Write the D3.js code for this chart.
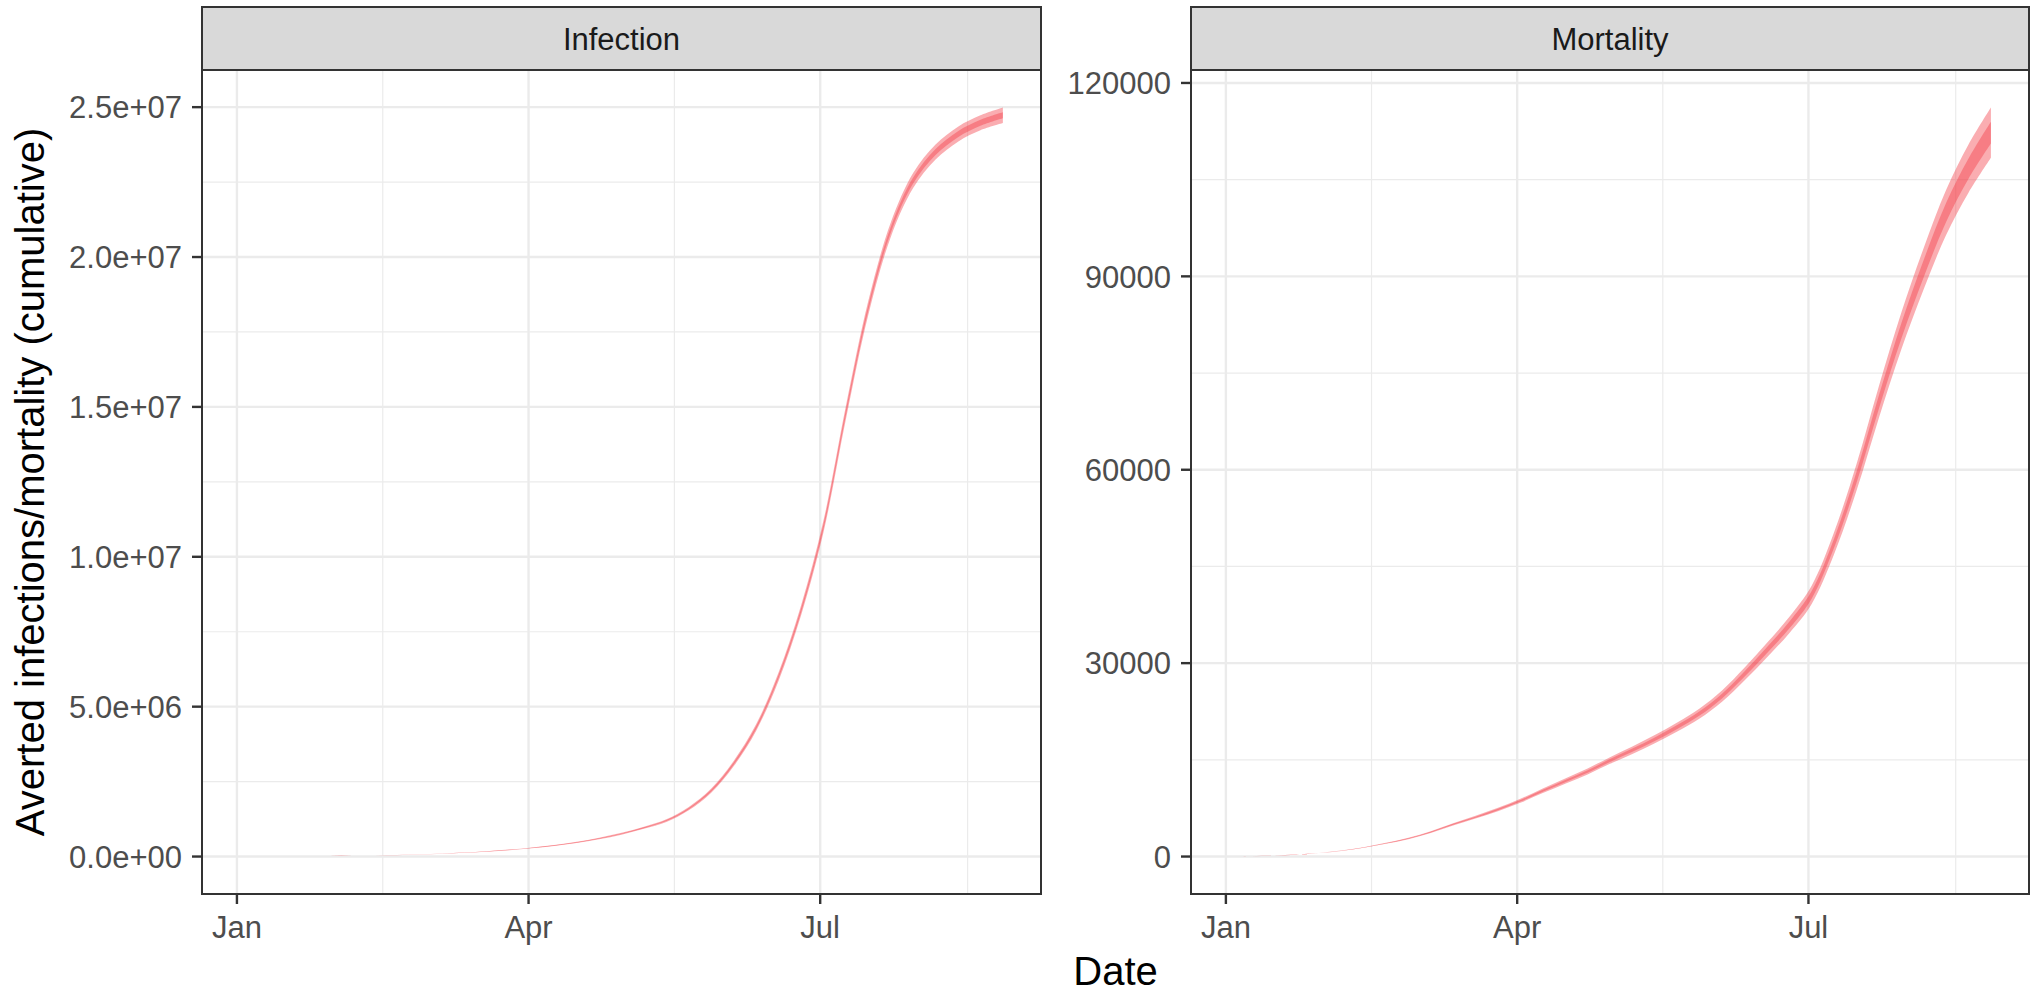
<!DOCTYPE html>
<html lang="en">
<head>
<meta charset="UTF-8">
<script src="https://cdn.jsdelivr.net/npm/d3@7"></script>
<style>
  body { margin: 0; background: #fff; }
  svg text { font-family: "Liberation Sans", Arial, Helvetica, sans-serif; }
</style>
<title>Averted infections / mortality</title>
</head>
<body>
<div id="chart"></div>
<script>
// weekly dates, 2020
var dates = ["2020-01-02","2020-01-09","2020-01-16","2020-01-23","2020-01-30",
  "2020-02-06","2020-02-13","2020-02-20","2020-02-27","2020-03-05","2020-03-12",
  "2020-03-19","2020-03-26","2020-04-02","2020-04-09","2020-04-16","2020-04-23",
  "2020-04-30","2020-05-07","2020-05-14","2020-05-21","2020-05-28","2020-06-04",
  "2020-06-11","2020-06-18","2020-06-25","2020-07-02","2020-07-09","2020-07-16",
  "2020-07-23","2020-07-30","2020-08-06","2020-08-13","2020-08-20","2020-08-27"];

// Infection: outer (95%) and inner (50%) bands
var infLo95 = [0, 1800, 4600, 9300, 15000, 22500, 33000, 47000, 66000, 95000, 123000, 161000, 209000, 276000, 353000, 450000, 575000, 730000, 925000, 1155000, 1545000, 2130000, 3010000, 4190000, 5860000, 8030000, 10800000, 14580000, 18070000, 20660000, 22300000, 23250000, 23850000, 24230000, 24470000];
var infHi95 = [0, 2200, 5400, 10700, 17000, 25500, 37000, 53000, 74000, 105000, 137000, 179000, 231000, 304000, 387000, 490000, 625000, 790000, 995000, 1245000, 1655000, 2270000, 3190000, 4410000, 6140000, 8370000, 11200000, 15020000, 18530000, 21140000, 22800000, 23750000, 24350000, 24730000, 24990000];
var infLo50 = [0, 1900, 4800, 9700, 15600, 23400, 34200, 48800, 68400, 98000, 127000, 166000, 216000, 284000, 363000, 462000, 590000, 748000, 946000, 1182000, 1578000, 2172000, 3064000, 4256000, 5944000, 8132000, 10920000, 14712000, 18208000, 20804000, 22450000, 23400000, 24000000, 24380000, 24630000];
var infHi50 = [0, 2100, 5200, 10300, 16400, 24600, 35800, 51200, 71600, 102000, 133000, 174000, 224000, 296000, 377000, 478000, 610000, 772000, 974000, 1218000, 1622000, 2228000, 3136000, 4344000, 6056000, 8268000, 11080000, 14888000, 18392000, 20996000, 22650000, 23600000, 24200000, 24580000, 24830000];

// Mortality
var mortLo95 = [0, 58, 145, 290, 531, 868, 1351, 1978, 2702, 3667, 4825, 5886, 7044, 8347, 9843, 11290, 12738, 14378, 15922, 17563, 19396, 21423, 24028, 27309, 30880, 34643, 39179, 46899, 56742, 68032, 78647, 88008, 96403, 102965, 108400];
var mortHi95 = [0, 62, 155, 310, 569, 932, 1449, 2122, 2898, 3933, 5175, 6314, 7556, 8953, 10557, 12110, 13662, 15422, 17078, 18837, 20804, 22977, 25772, 29291, 33120, 37157, 42021, 50301, 60858, 72968, 84353, 94392, 103397, 110435, 116200];
var mortLo50 = [0, 59, 148, 296, 542, 887, 1379, 2020, 2759, 3744, 4926, 6010, 7193, 8523, 10050, 11528, 13006, 14681, 16257, 17932, 19804, 21874, 24534, 27884, 31530, 35372, 40003, 47886, 57936, 69463, 80302, 89859, 98431, 105131, 110600];
var mortHi50 = [0, 61, 152, 304, 558, 913, 1421, 2080, 2841, 3856, 5074, 6190, 7407, 8777, 10350, 11872, 13394, 15119, 16743, 18468, 20396, 22526, 25266, 28716, 32470, 36428, 41197, 49314, 59664, 71537, 82698, 92541, 101369, 108269, 114000];

var panelNames = ["Infection", "Mortality"];
var infTicks = [0, 5e6, 1e7, 1.5e7, 2e7, 2.5e7];
var infTickLabels = ["0.0e+00", "5.0e+06", "1.0e+07", "1.5e+07", "2.0e+07", "2.5e+07"];
var mortTicks = [0, 30000, 60000, 90000, 120000];
var mortTickLabels = ["0", "30000", "60000", "90000", "120000"];
var monthTicks = ["2020-01-01", "2020-04-01", "2020-07-01", "2020-10-01"];
var monthLabels = ["Jan", "Apr", "Jul", "Oct"];

var width = 2038, height = 992;
var plotTop = 70, plotBottom = 894, stripTop = 7;
var panelX = [[202, 1041], [1191, 2029]];
var fillCol = "#F23B45";

var parse = d3.utcParse("%Y-%m-%d");
var dateVals = dates.map(parse);

var svg = d3.select("#chart").append("svg")
  .attr("width", width)
  .attr("height", height);

// ggplot-like 5% expansion
function expand(ext) {
  var pad = (ext[1] - ext[0]) * 0.05;
  return [ext[0] - pad, ext[1] + pad];
}

var xExt = d3.extent(dateVals).map(Number);
var xDom = expand(xExt);

var panels = [
  { lo95: infLo95, hi95: infHi95, lo50: infLo50, hi50: infHi50, ticks: infTicks, labels: infTickLabels },
  { lo95: mortLo95, hi95: mortHi95, lo50: mortLo50, hi50: mortHi50, ticks: mortTicks, labels: mortTickLabels }
];

panels.forEach(function(p, k) {
  var x0 = panelX[k][0], x1 = panelX[k][1];
  var x = d3.scaleUtc().domain(xDom.map(function(v) { return new Date(v); })).range([x0, x1]);
  var yMax = d3.max(p.hi95), yMin = d3.min(p.lo95);
  var y = d3.scaleLinear().domain(expand([yMin, yMax])).range([plotBottom, plotTop]);

  var g = svg.append("g");

  // gridlines: minor then major
  var yMinor = [];
  for (var i = 0; i < p.ticks.length - 1; i++) yMinor.push((p.ticks[i] + p.ticks[i + 1]) / 2);
  var mt = monthTicks.map(parse);
  var xMinor = [];
  for (var j = 0; j < mt.length - 1; j++) xMinor.push(new Date((+mt[j] + +mt[j + 1]) / 2));
  var xMajor = mt.filter(function(d) { return +d >= xDom[0] && +d <= xDom[1]; });
  xMinor = xMinor.filter(function(d) { return +d >= xDom[0] && +d <= xDom[1]; });

  g.selectAll(".ymin").data(yMinor).enter().append("line")
    .attr("x1", x0).attr("x2", x1)
    .attr("y1", function(d) { return y(d); }).attr("y2", function(d) { return y(d); })
    .attr("stroke", "#EBEBEB").attr("stroke-width", 1.2);
  g.selectAll(".xmin").data(xMinor).enter().append("line")
    .attr("y1", plotTop).attr("y2", plotBottom)
    .attr("x1", function(d) { return x(d); }).attr("x2", function(d) { return x(d); })
    .attr("stroke", "#EBEBEB").attr("stroke-width", 1.2);
  g.selectAll(".ymaj").data(p.ticks).enter().append("line")
    .attr("x1", x0).attr("x2", x1)
    .attr("y1", function(d) { return y(d); }).attr("y2", function(d) { return y(d); })
    .attr("stroke", "#EBEBEB").attr("stroke-width", 2.4);
  g.selectAll(".xmaj").data(xMajor).enter().append("line")
    .attr("y1", plotTop).attr("y2", plotBottom)
    .attr("x1", function(d) { return x(d); }).attr("x2", function(d) { return x(d); })
    .attr("stroke", "#EBEBEB").attr("stroke-width", 2.4);

  // ribbons
  var rows = dateVals.map(function(d, i) {
    return { date: d, lo95: p.lo95[i], hi95: p.hi95[i], lo50: p.lo50[i], hi50: p.hi50[i] };
  });
  var area95 = d3.area().curve(d3.curveCatmullRom)
    .x(function(d) { return x(d.date); })
    .y0(function(d) { return y(d.lo95); })
    .y1(function(d) { return y(d.hi95); });
  var area50 = d3.area().curve(d3.curveCatmullRom)
    .x(function(d) { return x(d.date); })
    .y0(function(d) { return y(d.lo50); })
    .y1(function(d) { return y(d.hi50); });
  g.append("path").datum(rows).attr("d", area95).attr("fill", fillCol).attr("fill-opacity", 0.42);
  g.append("path").datum(rows).attr("d", area50).attr("fill", fillCol).attr("fill-opacity", 0.42);

  // panel border
  g.append("rect").attr("x", x0).attr("y", plotTop).attr("width", x1 - x0).attr("height", plotBottom - plotTop)
    .attr("fill", "none").attr("stroke", "#333333").attr("stroke-width", 2);

  // strip
  g.append("rect").attr("x", x0).attr("y", stripTop).attr("width", x1 - x0).attr("height", plotTop - stripTop)
    .attr("fill", "#D9D9D9").attr("stroke", "#333333").attr("stroke-width", 2);
  g.append("text").attr("x", (x0 + x1) / 2).attr("y", 50)
    .attr("text-anchor", "middle").attr("font-size", 31).attr("fill", "#1A1A1A")
    .text(panelNames[k]);

  // y axis
  g.selectAll(".ytick").data(p.ticks).enter().append("line")
    .attr("x1", x0 - 10).attr("x2", x0)
    .attr("y1", function(d) { return y(d); }).attr("y2", function(d) { return y(d); })
    .attr("stroke", "#333333").attr("stroke-width", 2.4);
  g.selectAll(".ylab").data(p.ticks).enter().append("text")
    .attr("x", x0 - 20)
    .attr("y", function(d) { return y(d); })
    .attr("dy", "0.36em")
    .attr("text-anchor", "end").attr("font-size", 31).attr("fill", "#4D4D4D")
    .text(function(d, i) { return p.labels[i]; });

  // x axis
  g.selectAll(".xtick").data(xMajor).enter().append("line")
    .attr("y1", plotBottom).attr("y2", plotBottom + 10)
    .attr("x1", function(d) { return x(d); }).attr("x2", function(d) { return x(d); })
    .attr("stroke", "#333333").attr("stroke-width", 2.4);
  g.selectAll(".xlab").data(xMajor).enter().append("text")
    .attr("x", function(d) { return x(d); })
    .attr("y", 938)
    .attr("text-anchor", "middle").attr("font-size", 31).attr("fill", "#4D4D4D")
    .text(function(d) { return monthLabels[mt.map(Number).indexOf(+d)]; });
});

// axis titles
svg.append("text")
  .attr("x", (panelX[0][0] + panelX[1][1]) / 2).attr("y", 985)
  .attr("text-anchor", "middle").attr("font-size", 40).attr("fill", "#000")
  .text("Date");
svg.append("text")
  .attr("transform", "translate(44," + (plotTop + plotBottom) / 2 + ") rotate(-90)")
  .attr("text-anchor", "middle").attr("font-size", 40).attr("fill", "#000")
  .text("Averted infections/mortality (cumulative)");
</script>
</body>
</html>
